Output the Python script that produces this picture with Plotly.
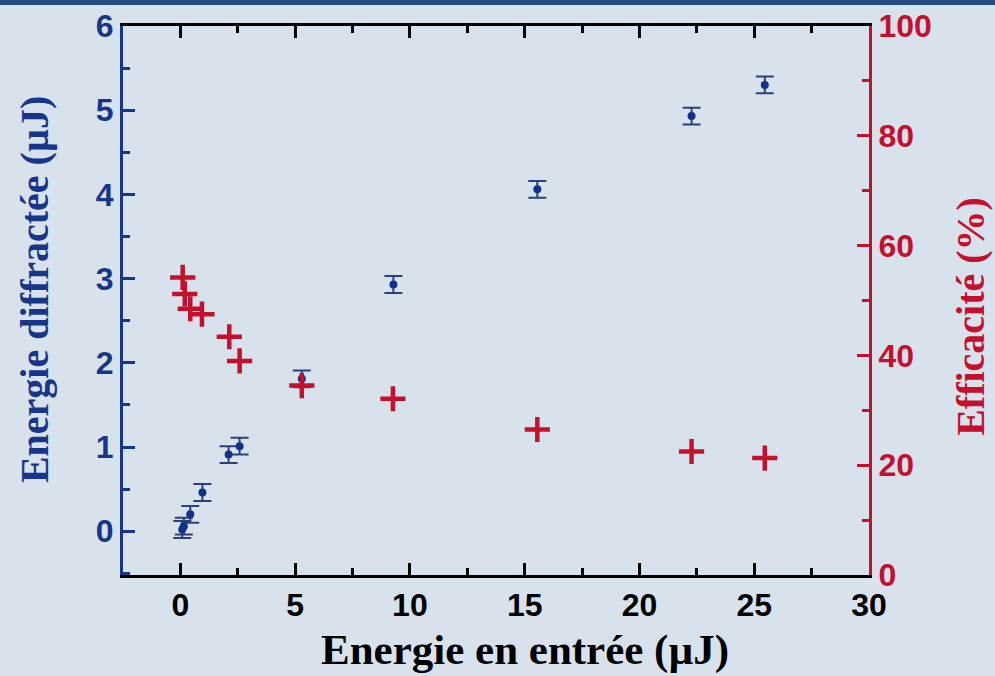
import plotly.graph_objects as go

# Data
input_energy_blue = [0.08, 0.15, 0.43, 0.96, 2.1, 2.58, 5.29, 9.28, 15.55, 22.27, 25.46]
diffracted_energy = [0.02, 0.06, 0.20, 0.46, 0.91, 1.01, 1.81, 2.93, 4.06, 4.93, 5.30]
diffracted_err = [0.1] * len(diffracted_energy)

input_energy_red = [0.10, 0.19, 0.43, 0.94, 2.13, 2.58, 5.29, 9.26, 15.55, 22.27, 25.46]
efficiency = [54.2, 51.2, 48.5, 47.5, 43.4, 39.0, 34.5, 32.1, 26.5, 22.5, 21.3]

x_ticks = [0, 5, 10, 15, 20, 25, 30]
y_ticks = [0, 1, 2, 3, 4, 5, 6]
y2_ticks = [0, 20, 40, 60, 80, 100]

x_title = "Energie en entrée (µJ)"
y_title = "Energie diffractée (µJ)"
y2_title = "Efficacité (%)"

BLUE = "#17368a"
RED = "#c4102c"
BG = "rgb(216,226,236)"

fig = go.Figure()

fig.add_trace(go.Scatter(
    x=input_energy_blue, y=diffracted_energy, mode="markers",
    marker=dict(symbol="circle", size=8, color="#12318a"),
    error_y=dict(type="data", array=diffracted_err, visible=True,
                 color="#2b4079", thickness=2, width=9),
    showlegend=False, yaxis="y",
))

fig.add_trace(go.Scatter(
    x=input_energy_red, y=efficiency, mode="markers",
    marker=dict(symbol="cross-thin-open", size=18,
                line=dict(color=RED, width=4.5), color=RED),
    showlegend=False, yaxis="y2",
))

tickfont_base = dict(family="Liberation Sans", size=32, weight="bold")

fig.update_layout(
    width=995, height=676,
    margin=dict(l=123, r=126, t=26, b=101),
    paper_bgcolor=BG, plot_bgcolor=BG,
    xaxis=dict(
        range=[-2.5, 30], tickvals=x_ticks, ticktext=[str(v) for v in x_ticks],
        ticks="inside", ticklen=12, tickwidth=2.5, tickcolor="black",
        minor=dict(dtick=2.5, ticks="inside", ticklen=7, tickwidth=2.5, tickcolor="black"),
        showline=True, linecolor="black", linewidth=3, mirror="ticks",
        showgrid=False, zeroline=False, automargin=False,
        tickfont=dict(color="black", **tickfont_base),
    ),
    yaxis=dict(
        range=[-0.52, 6], tickvals=y_ticks, ticktext=[str(v) for v in y_ticks],
        ticks="inside", ticklen=12, tickwidth=2.5, tickcolor=BLUE,
        minor=dict(dtick=0.5, ticks="inside", ticklen=7, tickwidth=2.5, tickcolor=BLUE),
        showline=True, linecolor=BLUE, linewidth=3,
        showgrid=False, zeroline=False, automargin=False,
        tickfont=dict(color=BLUE, **tickfont_base),
    ),
    yaxis2=dict(
        range=[0, 100], tickvals=y2_ticks, ticktext=[str(v) for v in y2_ticks],
        overlaying="y", side="right",
        ticks="inside", ticklen=12, tickwidth=2.5, tickcolor=RED,
        minor=dict(dtick=10, ticks="inside", ticklen=7, tickwidth=2.5, tickcolor=RED),
        showline=True, linecolor=RED, linewidth=3,
        showgrid=False, zeroline=False, automargin=False,
        tickfont=dict(color=RED, **tickfont_base),
    ),
    annotations=[
        dict(text=x_title, xref="paper", yref="paper", x=0.539, y=-0.137,
             xanchor="center", yanchor="middle", showarrow=False,
             font=dict(family="Liberation Serif", size=43, weight="bold", color="black")),
        dict(text=y_title, xref="paper", yref="paper", x=-0.1193, y=0.519,
             xanchor="center", yanchor="middle", showarrow=False, textangle=-90,
             font=dict(family="Liberation Serif", size=40, weight="bold", color=BLUE)),
        dict(text=y2_title, xref="paper", yref="paper", x=1.1367, y=0.472,
             xanchor="center", yanchor="middle", showarrow=False, textangle=-90,
             font=dict(family="Liberation Serif", size=40, weight="bold", color=RED)),
    ],
    shapes=[dict(type="rect", xref="paper", yref="paper",
                 x0=-0.3, x1=1.3, y0=1 + 21 / 549, y1=1 + 27 / 549,
                 fillcolor="#244a80", line=dict(width=0), layer="above")],
)

fig.write_html("out.html", config={"displayModeBar": False},
               post_script="document.body.style.margin='0';document.body.style.overflow='hidden';")
